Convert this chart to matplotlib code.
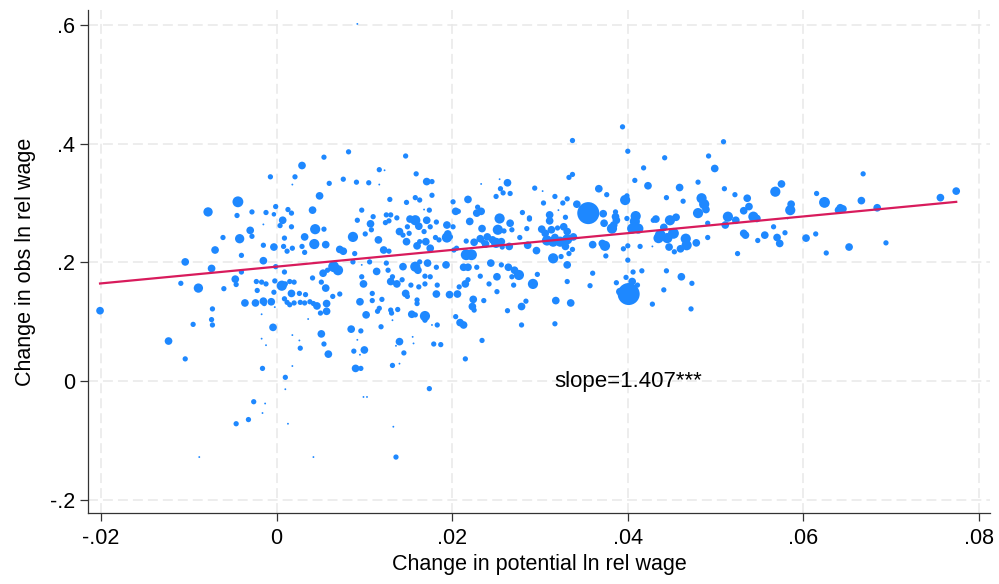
import matplotlib
matplotlib.use("Agg")
import matplotlib.pyplot as plt
import numpy as np

plt.rcParams["font.family"] = ["Liberation Sans", "DejaVu Sans"]

# change in potential ln relative wage (x), change in observed ln relative wage (y)
# and the cell weight used for marker area, one entry per point
pot_wage = [
    .0054, .0029, -.0007, .0021, .0018, .0060, -.0044, -.0078, -.0045, -.0028,
    -.0012, -.0001, -.0003, .0013, .0017, .0049, .0041, .0007, .0004, .0017,
    -.0015, -.0030, -.0028, -.0042, -.0061, .0044, .0054, .0032, .0009, .0043,
    .0056, -.0015, -.0003, .0008, .0012, .0018, .0029, .0032, -.0070, -.0040,
    -.0015, -.0104, -.0001, -.0074, -.0040, .0009, .0041, .0053, .0058, -.0047,
    -.0046, -.0109, -.0089, -.0060, -.0023, -.0017, -.0012, -.0002, .0006, .0010,
    .0015, .0020, -.0003, .0017, .0026, .0033, .0056, .0051, -.0022, -.0036,
    -.0024, -.0015, -.0014, -.0006, .0009, .0012, .0015, .0020, .0027, .0032,
    .0038, .0042, .0046, .0050, .0057, -.0073, -.0201, -.0017, -.0002, .0036,
    -.0074, -.0073, -.0095, -.0004, -.0123, -.0104, -.0017, -.0012, -.0016, .0010,
    .0018, .0026, .0027, .0018, .0010, -.0026, -.0013, -.0016, -.0032, -.0046,
    .0013, -.0088, .0042, .0136, .0133, .0051, .0054, .0059, .0056, .0085,
    .0096, .0088, .0095, .0100, .0090, .0096, .0092, .0119, .0132, .0140,
    .0140, .0136, .0145, .0155, .0156, .0169, .0177, .0179, .0187, .0174,
    .0099, .0103, .0209, .0213, .0234, .0215, .0132, .0082, .0147, .0117,
    .0123, .0159, .0076, .0091, .0105, .0117, .0171, .0177, .0129, .0163,
    .0158, .0177, .0148, .0097, .0174, .0168, .0201, .0218, .0204, .0207,
    .0229, .0233, .0228, .0250, .0255, .0258, .0266, .0263, .0254, .0233,
    .0294, .0303, .0304, .0317, .0326, .0331, .0333, .0321, .0280, .0288,
    .0311, .0311, .0329, .0092, .0110, .0107, .0125, .0130, .0128, .0124,
    .0137, .0158, .0152, .0149, .0162, .0171, .0182, .0175, .0194, .0201,
    .0220, .0234, .0254, .0252, .0266, .0268, .0259, .0288, .0285, .0302,
    .0306, .0313, .0320, .0327, .0331, .0087, .0072, .0076, .0101, .0108,
    .0116, .0122, .0128, .0140, .0144, .0148, .0151, .0160, .0163, .0168,
    .0170, .0175, .0181, .0185, .0195, .0194, .0198, .0205, .0216, .0225,
    .0232, .0235, .0240, .0246, .0238, .0250, .0256, .0257, .0265, .0277,
    .0286, .0296, .0308, .0315, .0323, .0331, .0329, .0317, .0065, .0070,
    .0089, .0087, .0097, .0106, .0114, .0125, .0127, .0130, .0137, .0132,
    .0144, .0158, .0161, .0163, .0172, .0169, .0175, .0182, .0193, .0183,
    .0169, .0162, .0153, .0143, .0216, .0222, .0202, .0213, .0218, .0218,
    .0215, .0208, .0228, .0232, .0244, .0251, .0242, .0264, .0271, .0276,
    .0268, .0292, .0297, .0270, .0256, .0315, .0324, .0331, .0333, .0331,
    .0057, .0072, .0064, .0095, .0099, .0097, .0109, .0109, .0120, .0117,
    .0115, .0102, .0130, .0131, .0138, .0147, .0149, .0160, .0160, .0154,
    .0158, .0169, .0182, .0183, .0197, .0206, .0204, .0224, .0223, .0225,
    .0236, .0251, .0263, .0279, .0279, .0318, .0317, .0284, .0335, .0394,
    .0337, .0509, .0400, .0492, .0442, .0499, .0418, .0337, .0408, .0423,
    .0480, .0459, .0367, .0376, .0397, .0399, .0444, .0463, .0484, .0487,
    .0480, .0489, .0510, .0522, .0536, .0538, .0532, .0568, .0575, .0586,
    .0585, .0342, .0355, .0372, .0373, .0386, .0386, .0384, .0387, .0382,
    .0409, .0408, .0405, .0412, .0399, .0432, .0429, .0448, .0455, .0441,
    .0452, .0437, .0435, .0445, .0466, .0478, .0467, .0491, .0491, .0514,
    .0523, .0543, .0547, .0511, .0566, .0532, .0534, .0556, .0570, .0573,
    .0579, .0548, .0603, .0582, .0338, .0337, .0360, .0374, .0371, .0375,
    .0400, .0395, .0414, .0428, .0447, .0460, .0453, .0525, .0400, .0360,
    .0406, .0416, .0444, .0461, .0473, .0357, .0387, .0398, .0405, .0411,
    .0401, .0391, .0441, .0428, .0472, .0668, .0615, .0624, .0666, .0642,
    .0645, .0640, .0684, .0756, .0774, .0614, .0626, .0652, .0694, .0092,
]

obs_wage = [
    .377, .363, .344, .344, .331, .333, .302, .285, .279, .285,
    .284, .294, .281, .289, .283, .312, .288, .271, .262, .260,
    .264, .254, .244, .240, .242, .256, .256, .243, .241, .231,
    .230, .229, .226, .227, .219, .224, .227, .217, .221, .212,
    .203, .201, .193, .190, .184, .184, .174, .182, .187, .172,
    .163, .165, .157, .156, .168, .167, .164, .169, .161, .164,
    .168, .167, .150, .148, .148, .146, .157, .167, .153, .132,
    .132, .135, .131, .134, .139, .133, .129, .132, .133, .132,
    .134, .131, .127, .115, .118, .122, .119, .113, .125, .105,
    .104, .095, .096, .091, .068, .038, .072, .061, .022, .007,
    .078, .069, .056, .026, -.013, -.034, -.037, -.053, -.064, -.071,
    -.071, -.127, -.127, -.127, -.076, .080, .063, .046, .046, .088,
    .085, .051, .045, .053, .022, .022, .070, .092, .027, .030,
    .067, .060, .048, .075, .064, .103, .095, .063, .062, -.012,
    -.026, -.026, .099, .095, .069, .038, .103, .386, .379, .356,
    .355, .349, .340, .335, .334, .331, .336, .336, .306, .305,
    .309, .313, .301, .288, .288, .289, .302, .306, .286, .286,
    .293, .286, .283, .311, .324, .317, .316, .334, .340, .332,
    .325, .320, .300, .311, .300, .307, .343, .288, .284, .275,
    .280, .270, .276, .271, .277, .265, .280, .280, .270, .267,
    .275, .271, .273, .260, .261, .271, .268, .260, .263, .260,
    .269, .257, .274, .255, .266, .255, .253, .273, .257, .256,
    .249, .255, .258, .260, .252, .243, .222, .219, .248, .255,
    .238, .221, .219, .252, .246, .235, .249, .228, .235, .252,
    .235, .224, .242, .238, .248, .242, .243, .224, .236, .234,
    .240, .235, .243, .238, .231, .233, .235, .226, .227, .242,
    .229, .220, .237, .235, .235, .239, .227, .242, .193, .187,
    .215, .201, .196, .201, .185, .199, .187, .168, .164, .176,
    .193, .193, .187, .201, .199, .177, .176, .192, .196, .162,
    .164, .159, .162, .171, .213, .213, .221, .192, .192, .171,
    .164, .159, .192, .177, .199, .176, .164, .192, .187, .179,
    .176, .164, .180, .162, .196, .207, .210, .196, .215, .168,
    .131, .147, .143, .134, .164, .176, .148, .136, .138, .123,
    .118, .112, .120, .115, .121, .148, .143, .137, .131, .113,
    .112, .110, .147, .095, .146, .147, .109, .138, .126, .120,
    .136, .151, .119, .126, .095, .136, .097, .135, .132, .428,
    .405, .403, .387, .379, .376, .358, .359, .348, .338, .329,
    .335, .326, .324, .314, .305, .312, .309, .303, .308, .298,
    .283, .289, .324, .314, .308, .294, .287, .319, .332, .298,
    .288, .298, .283, .282, .266, .285, .277, .263, .271, .257,
    .278, .269, .257, .257, .274, .273, .271, .271, .276, .259,
    .249, .246, .241, .241, .240, .233, .229, .266, .242, .277,
    .271, .277, .274, .263, .260, .249, .246, .246, .242, .232,
    .250, .237, .241, .274, .243, .222, .230, .228, .232, .211,
    .228, .223, .227, .227, .226, .223, .218, .215, .204, .182,
    .184, .186, .186, .176, .165, .161, .166, .175, .168, .162,
    .147, .151, .154, .130, .122, .349, .316, .301, .304, .292,
    .290, .288, .292, .309, .320, .248, .216, .226, .233, .601,
]

cell_weight = [
    8, 17, 8, 8, 1, 8, 34, 25, 8, 8,
    8, 8, 6, 8, 8, 17, 17, 17, 8, 8,
    1, 17, 8, 25, 8, 30, 8, 17, 8, 30,
    17, 8, 17, 8, 8, 8, 8, 8, 17, 8,
    17, 17, 8, 17, 8, 8, 8, 17, 8, 17,
    8, 8, 25, 8, 8, 8, 8, 8, 30, 8,
    8, 8, 8, 17, 8, 8, 17, 8, 8, 17,
    17, 17, 8, 17, 8, 8, 8, 8, 8, 8,
    8, 8, 17, 8, 17, 8, 17, 1, 1, 1,
    8, 8, 8, 17, 17, 8, 1, 1, 8, 8,
    1, 1, 8, 1, 1, 8, 1, 1, 8, 8,
    1, 1, 1, 8, 1, 17, 8, 17, 1, 17,
    8, 8, 1, 17, 17, 8, 1, 8, 8, 1,
    17, 1, 8, 1, 1, 8, 1, 8, 8, 8,
    1, 1, 17, 17, 8, 8, 1, 8, 8, 8,
    1, 8, 8, 8, 8, 1, 17, 8, 8, 8,
    8, 8, 8, 8, 8, 1, 8, 17, 17, 8,
    8, 17, 17, 8, 8, 8, 8, 17, 1, 1,
    8, 1, 8, 8, 8, 8, 8, 1, 8, 8,
    17, 17, 8, 8, 8, 17, 8, 8, 8, 8,
    8, 30, 17, 8, 17, 17, 8, 8, 17, 8,
    17, 17, 30, 30, 17, 8, 8, 8, 8, 17,
    17, 17, 8, 17, 17, 30, 17, 17, 8, 8,
    17, 17, 8, 17, 8, 17, 8, 17, 8, 8,
    17, 17, 8, 8, 17, 30, 8, 8, 8, 17,
    17, 8, 17, 17, 17, 30, 17, 8, 17, 8,
    17, 17, 30, 30, 30, 30, 17, 17, 34, 30,
    8, 8, 1, 8, 17, 8, 8, 17, 17, 8,
    17, 30, 17, 8, 17, 8, 8, 8, 17, 8,
    8, 8, 8, 8, 34, 34, 8, 17, 17, 8,
    17, 8, 8, 8, 17, 17, 8, 17, 17, 30,
    8, 30, 8, 8, 8, 30, 8, 17, 8, 8,
    17, 8, 8, 17, 17, 8, 8, 8, 8, 8,
    8, 17, 8, 8, 8, 17, 8, 8, 8, 17,
    8, 30, 17, 8, 17, 17, 8, 17, 17, 8,
    8, 8, 8, 17, 8, 17, 8, 8, 17, 8,
    8, 8, 8, 8, 8, 17, 8, 8, 8, 17,
    8, 17, 17, 8, 30, 8, 8, 8, 30, 30,
    30, 17, 8, 8, 17, 17, 17, 30, 17, 17,
    30, 17, 140, 17, 17, 8, 17, 17, 17, 30,
    30, 30, 30, 30, 8, 17, 8, 30, 17, 17,
    34, 34, 30, 30, 30, 17, 30, 8, 8, 30,
    17, 30, 17, 17, 8, 17, 17, 17, 17, 17,
    8, 8, 17, 1, 17, 8, 17, 30, 17, 8,
    8, 8, 8, 1, 17, 17, 8, 8, 8, 8,
    8, 8, 8, 17, 8, 8, 8, 8, 17, 8,
    140, 17, 8, 8, 8, 8, 8, 34, 17, 17,
    17, 17, 17, 17, 17, 8, 8, 17, 8, 1,
]

# linear fit reported on the chart
fit_slope = 1.407
fit_intercept = 0.193

x_ticks = [-.02, 0, .02, .04, .06, .08]
x_ticklabels = ["-.02", "0", ".02", ".04", ".06", ".08"]
y_ticks = [-.2, 0, .2, .4, .6]
y_ticklabels = ["-.2", "0", ".2", ".4", ".6"]

fig = plt.figure(figsize=(9.99, 5.84), dpi=100)
ax = fig.add_axes([0.0881, 0.1216, 0.903, 0.8613])

x = np.array(pot_wage)
y = np.array(obs_wage)
w = np.array(cell_weight, dtype=float)

# marker area proportional to the cell weight
ax.scatter(x, y, s=w * 1.8, color="#1e88ff", linewidths=0, zorder=3)

xf = np.array([x.min(), x.max()])
ax.plot(xf, fit_intercept + fit_slope * xf, color="#d81b5c", lw=1.6, zorder=4)

ax.text(0.04, 0.0, "slope=1.407***", ha="center", va="center", fontsize=16)

ax.set_xlim(-0.02147, 0.08126)
ax.set_ylim(-0.221, 0.6244)

ax.set_xticks(x_ticks)
ax.set_xticklabels(x_ticklabels)
ax.set_yticks(y_ticks)
ax.set_yticklabels(y_ticklabels)
ax.tick_params(axis="both", labelsize=15.5, length=5.5, width=0.9,
               color="#333333", direction="out")
ax.tick_params(axis="y", pad=4)
ax.tick_params(axis="x", pad=5)

ax.grid(True, color="#e8e8e8", lw=1.1, linestyle=(0, (6.5, 3.3)), zorder=0)
ax.set_axisbelow(True)

for side in ("top", "right"):
    ax.spines[side].set_visible(False)
for side in ("left", "bottom"):
    ax.spines[side].set_color("#333333")
    ax.spines[side].set_linewidth(0.9)

ax.set_xlabel("Change in potential ln rel wage", fontsize=15.5, labelpad=4)
ax.set_ylabel("Change in obs ln rel wage", fontsize=15.5, labelpad=10)

fig.savefig("out.png", dpi=100, facecolor="white")
